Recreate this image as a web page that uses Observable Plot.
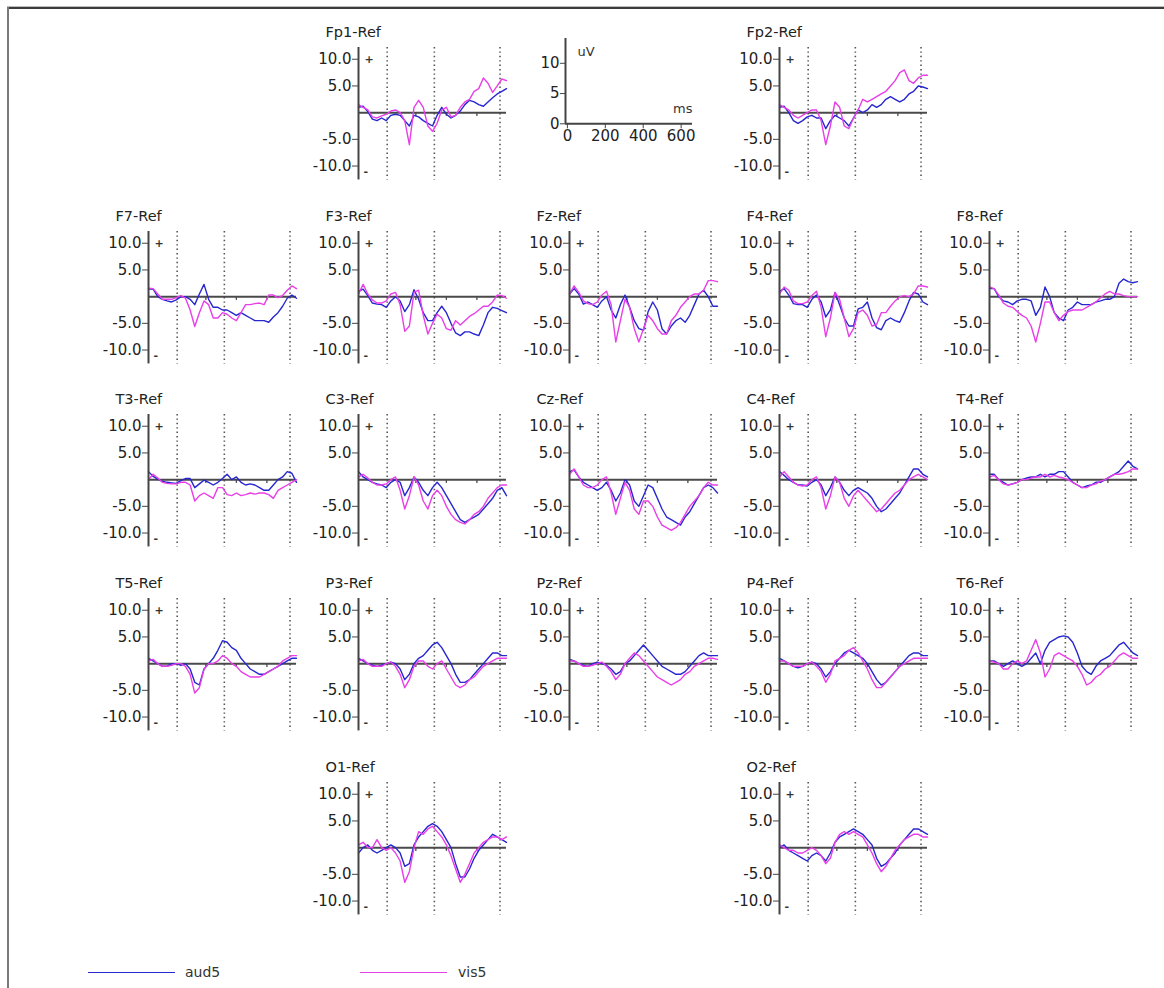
<!DOCTYPE html>
<html>
<head>
<meta charset="utf-8">
<script src="https://cdn.jsdelivr.net/npm/d3@7"></script>
<script src="https://cdn.jsdelivr.net/npm/@observablehq/plot@0.6"></script>
<style>
  html, body { margin: 0; padding: 0; background: #fff; }
  #page { position: relative; width: 1164px; height: 988px; overflow: hidden; background: #fff;
          font-family: "DejaVu Sans", sans-serif; color: #222; }
  #frameTop { position: absolute; left: 7px; top: 6px; width: 1157px; height: 0; border-top: 1px solid #bdbdbd; }
  #frameTop2 { position: absolute; left: 7px; top: 7px; width: 1157px; height: 0; border-top: 2px solid #3c3c3c; }
  #frameLeft { position: absolute; left: 7px; top: 7px; width: 0; height: 981px; border-left: 2px solid #7a7a7a; }
  .panel { position: absolute; }
  .leg { position: absolute; font-size: 14px; color: #333; }
  .legline { position: absolute; height: 0; }
</style>
</head>
<body>
<div id="page">
  <div id="frameTop"></div>
  <div id="frameTop2"></div>
  <div id="frameLeft"></div>
</div>
<script>
// ---- time grid (ms) and panel furniture ----
const times = [-150,-125,-100,-75,-50,-25,0,25,50,75,100,125,150,175,200,225,250,275,300,325,350,375,400,425,450,475,500,525,550,575,600,625,650];
const markerTimes = [5, 260, 615];
const zeroTicks = [160, 325, 490];
const yTicks = [10, 5, -5, -10];
const scaleXTicks = [0, 200, 400, 600];
const scaleYTicks = [0, 5, 10];
const conditions = ["aud5", "vis5"];
const condColors = ["#2727cf", "#e83fe8"];

// ---- channel layout (grid column / row) ----
const channelNames = ["Fp1","Fp2","F7","F3","Fz","F4","F8","T3","C3","Cz","C4","T4","T5","P3","Pz","P4","T6","O1","O2"];
const channelCols  = [1,3, 0,1,2,3,4, 0,1,2,3,4, 0,1,2,3,4, 1,3];
const channelRows  = [0,0, 1,1,1,1,1, 2,2,2,2,2, 3,3,3,3,3, 4,4];

// ---- waveforms (uV), aud5 = auditory, vis5 = visual ----
const aud_Fp1 = [1.0,1.2,0.2,-1.2,-1.5,-1.0,-1.5,-0.5,-0.3,-0.5,-1.5,-2.5,-0.5,-0.8,-1.5,-2.0,-2.5,-0.5,1.0,-0.3,-1.0,-0.5,0.3,1.5,2.3,2.0,1.5,1.2,2.0,2.8,3.5,4.0,4.5];
const vis_Fp1 = [1.5,1.0,0.5,-0.8,-1.0,-0.6,-0.3,0.3,0.5,0.0,-1.5,-6.0,1.0,2.3,1.0,-2.5,-3.5,-2.0,0.5,1.0,-0.8,-0.5,1.0,2.0,2.5,4.0,4.5,6.5,5.5,3.8,5.0,6.3,6.0];
const aud_Fp2 = [1.0,1.2,0.0,-1.5,-2.0,-1.5,-0.8,-0.5,-1.0,-1.0,-3.0,-1.5,-0.5,-1.0,-1.5,-2.5,-1.0,0.5,0.0,0.5,1.5,1.0,1.5,2.5,3.0,2.5,2.0,2.5,3.5,4.0,5.0,4.8,4.5];
const vis_Fp2 = [1.5,1.0,0.5,-0.5,-1.0,-0.5,0.0,0.5,0.5,-1.5,-6.0,-2.5,2.0,1.0,-2.5,-3.0,-1.0,0.5,2.5,2.0,2.5,3.0,3.5,4.0,5.0,6.0,7.5,8.0,6.0,5.5,6.5,7.0,7.0];
const aud_F7 = [1.4,1.4,0.0,-0.5,-0.8,-1.0,-0.6,0.0,0.0,-0.5,-1.5,0.5,2.3,-0.5,-2.0,-2.0,-2.5,-2.5,-3.0,-3.5,-3.0,-3.5,-4.0,-4.5,-4.5,-4.5,-4.8,-3.8,-3.0,-1.8,-0.3,0.3,-0.3];
const vis_F7 = [1.6,1.5,0.5,-0.5,-0.5,-0.5,-0.2,0.2,-0.3,-2.5,-5.6,-3.0,-0.8,-1.5,-4.0,-4.0,-3.0,-3.3,-4.0,-4.5,-3.0,-1.5,-1.5,-1.3,-1.2,-1.5,0.3,0.3,-0.2,0.2,1.2,2.0,1.5];
const aud_F3 = [1.0,1.4,0.2,-1.2,-1.4,-1.5,-2.0,-0.8,0.0,-0.8,-2.8,-1.5,1.3,-0.5,-3.0,-4.5,-4.5,-3.0,-1.8,-3.0,-5.0,-6.8,-7.3,-6.6,-6.6,-7.0,-7.3,-5.3,-3.0,-2.0,-2.2,-2.6,-3.0];
const vis_F3 = [0.5,2.3,0.5,-0.6,-1.2,-1.2,-0.8,0.5,0.8,-1.5,-6.5,-5.5,0.8,1.2,-3.5,-7.0,-5.0,-3.3,-4.0,-6.0,-6.3,-4.5,-5.3,-4.5,-3.7,-3.2,-2.5,-1.8,-1.8,-1.0,0.3,0.2,-0.3];
const aud_Fz = [0.5,1.5,0.5,-1.4,-1.0,-1.5,-2.0,-0.8,0.0,-2.5,-4.0,-1.5,0.3,-2.0,-4.5,-6.0,-6.3,-2.8,-1.0,-2.5,-6.0,-7.0,-5.5,-4.5,-4.0,-4.8,-3.5,-1.5,0.5,1.2,0.0,-1.8,-1.8];
const vis_Fz = [0.5,2.0,0.8,-0.8,-1.3,-1.5,-1.0,0.3,1.0,-1.5,-8.5,-4.5,-0.5,-2.0,-6.0,-8.5,-6.0,-3.5,-4.5,-6.0,-7.0,-7.0,-4.5,-3.5,-2.0,-1.0,0.0,0.5,0.5,1.2,3.0,3.0,2.8];
const aud_F4 = [1.0,1.5,0.3,-1.3,-1.5,-1.5,-2.0,-0.5,0.3,-1.0,-3.8,-2.5,0.8,-1.5,-4.0,-5.5,-5.5,-2.3,-2.0,-1.0,-4.0,-5.8,-6.2,-4.5,-4.0,-4.5,-4.8,-3.0,-0.8,0.8,0.5,-1.0,-1.5];
const vis_F4 = [0.5,1.8,1.2,-0.8,-1.3,-1.3,-1.0,0.2,1.0,-2.0,-7.5,-4.0,0.8,-0.5,-4.0,-7.5,-6.0,-3.0,-2.5,-3.5,-5.5,-5.2,-3.0,-3.0,-1.8,-0.8,0.0,0.2,0.0,0.5,2.0,2.0,1.8];
const aud_F8 = [1.5,1.5,0.0,-0.8,-1.0,-1.5,-0.8,-0.5,-0.5,-0.8,-3.5,-2.0,1.8,0.0,-3.0,-4.0,-4.5,-2.5,-2.0,-1.0,-1.5,-1.5,-1.5,-1.0,-0.8,-0.5,-0.5,0.0,2.5,3.3,2.8,2.6,2.8];
const vis_F8 = [1.8,1.5,0.3,-1.2,-1.8,-2.0,-2.8,-3.5,-4.0,-5.5,-8.5,-5.0,-1.0,-1.0,-3.0,-4.5,-3.5,-2.8,-2.5,-2.5,-2.5,-2.0,-1.5,-1.0,-0.2,0.5,1.0,0.5,0.5,0.2,0.0,0.0,0.0];
const aud_T3 = [1.5,0.6,0.1,-0.3,-0.5,-0.6,-0.7,-0.2,0.2,0.2,-1.5,-0.8,-0.1,-0.5,-1.0,-0.5,0.2,1.0,0.0,0.5,-0.5,-1.0,-0.8,-1.0,-1.5,-2.0,-2.0,-1.0,0.0,0.5,1.5,1.2,-0.5];
const vis_T3 = [0.0,1.0,0.3,-0.5,-0.7,-0.8,-0.8,-0.5,-0.5,-1.0,-4.0,-3.0,-2.5,-3.0,-3.5,-1.5,-1.5,-2.8,-3.0,-2.5,-3.0,-2.8,-2.5,-2.7,-2.5,-2.5,-2.8,-3.5,-2.0,-1.5,-1.0,-0.5,0.0];
const aud_C3 = [1.5,0.5,0.0,-0.5,-0.8,-1.0,-1.5,-0.5,0.0,-0.5,-3.0,-1.5,0.5,-0.5,-2.0,-3.0,-1.5,-0.5,-1.5,-3.0,-4.5,-6.0,-7.5,-8.0,-7.5,-7.0,-6.5,-5.5,-4.5,-3.5,-2.0,-1.5,-3.0];
const vis_C3 = [0.5,1.0,0.3,-0.5,-1.0,-1.0,-0.8,0.0,0.5,-2.0,-5.5,-3.0,0.5,-1.0,-4.0,-5.5,-3.0,-2.0,-3.0,-5.0,-6.5,-7.5,-8.0,-8.3,-7.5,-6.5,-6.0,-5.0,-3.5,-2.5,-1.5,-1.0,-1.0];
const aud_Cz = [1.5,1.8,0.5,-0.5,-1.0,-1.5,-2.0,-1.5,-0.5,-2.0,-4.0,-2.5,0.0,-1.0,-4.0,-5.0,-3.0,-1.0,-1.5,-3.5,-5.5,-7.0,-7.5,-8.0,-8.5,-7.0,-6.0,-4.5,-3.0,-1.5,-1.0,-1.5,-2.5];
const vis_Cz = [1.0,2.0,0.5,-1.0,-1.5,-1.5,-1.0,0.0,0.5,-2.5,-6.5,-3.5,-0.5,-2.0,-5.5,-6.5,-4.0,-4.0,-5.0,-7.0,-8.5,-9.0,-9.5,-9.0,-8.0,-6.5,-5.0,-4.0,-3.0,-1.5,-0.5,-1.0,-1.0];
const aud_C4 = [1.5,0.8,0.0,-0.5,-1.0,-1.0,-1.2,-0.5,0.0,-1.0,-3.0,-1.5,0.5,-0.5,-2.0,-3.0,-2.0,-1.5,-2.0,-2.5,-3.5,-5.0,-6.0,-5.5,-4.5,-3.5,-2.5,-1.0,0.5,2.0,2.0,1.0,0.5];
const vis_C4 = [0.5,1.5,0.5,-0.5,-1.0,-1.2,-1.0,0.0,0.5,-1.5,-5.5,-3.0,0.5,-0.5,-3.5,-5.0,-3.0,-2.0,-3.0,-4.0,-5.0,-6.0,-5.5,-4.5,-3.5,-2.5,-2.0,-1.0,0.0,0.5,1.0,0.5,0.0];
const aud_T4 = [1.0,1.0,0.0,-0.5,-1.0,-0.8,-0.5,0.0,0.3,0.5,0.5,1.0,0.5,1.0,1.0,1.5,1.5,0.5,-0.5,-1.0,-1.5,-1.2,-1.0,-0.5,-0.5,0.0,0.5,1.0,1.5,2.5,3.5,2.5,2.0];
const vis_T4 = [0.5,0.8,0.0,-0.8,-1.0,-0.8,-0.5,0.0,0.0,0.3,0.5,0.5,1.0,0.5,0.8,0.5,0.3,0.0,-0.5,-1.0,-1.5,-1.5,-1.0,-0.8,-0.3,0.0,0.5,1.0,1.0,1.2,1.5,2.0,2.0];
const aud_T5 = [1.0,0.5,0.0,-0.5,-0.5,0.0,0.0,-0.3,0.0,-1.0,-3.5,-4.0,-1.0,0.0,1.0,2.5,4.3,4.0,3.0,2.5,1.0,0.0,-1.0,-1.5,-2.0,-2.0,-1.5,-1.0,-0.5,0.0,0.5,1.0,1.0];
const vis_T5 = [0.5,0.8,0.0,-0.5,-0.5,-0.3,0.0,0.0,-0.5,-2.0,-5.5,-4.5,-1.0,0.0,0.0,0.5,1.5,1.0,0.0,-0.5,-1.5,-2.0,-2.5,-2.5,-2.5,-2.0,-1.5,-1.0,-0.5,0.5,1.0,1.5,1.5];
const aud_P3 = [1.0,0.5,0.0,-0.3,-0.5,-0.3,0.0,0.3,0.0,-1.0,-3.0,-2.0,0.0,1.0,1.5,2.5,3.5,4.0,3.0,1.5,0.0,-2.0,-3.5,-3.5,-3.0,-2.0,-1.0,0.0,1.0,2.0,2.0,1.5,1.5];
const vis_P3 = [0.5,0.8,0.0,-0.5,-0.5,-0.5,0.0,0.3,-0.5,-2.0,-4.5,-3.0,-0.5,0.5,0.5,-0.5,-1.0,0.0,0.5,-1.0,-2.5,-4.0,-4.5,-4.0,-3.0,-2.5,-1.5,-0.5,0.0,0.5,1.0,1.0,1.0];
const aud_Pz = [0.8,0.5,0.0,-0.3,-0.5,0.0,0.3,0.0,-0.3,-1.0,-2.0,-1.5,0.0,0.5,1.5,2.5,3.5,2.5,1.5,0.5,-0.5,-1.0,-1.5,-2.0,-2.0,-1.5,-0.5,0.5,1.5,2.0,1.5,1.5,1.5];
const vis_Pz = [0.5,0.5,0.0,-0.5,-0.5,-0.3,0.0,0.3,-0.5,-1.5,-3.0,-2.0,0.0,1.0,2.0,1.5,0.5,-0.5,-1.5,-2.5,-3.0,-3.5,-4.0,-3.5,-3.0,-2.0,-1.5,-0.5,0.0,0.5,1.0,1.0,0.8];
const aud_P4 = [1.0,0.5,0.0,-0.5,-0.8,-0.5,0.0,0.3,0.0,-1.0,-2.5,-1.5,0.0,1.0,2.0,2.5,2.0,1.5,1.0,0.0,-1.5,-3.0,-4.0,-3.5,-2.5,-1.5,-0.5,0.5,1.5,2.0,2.0,1.5,1.5];
const vis_P4 = [0.5,0.5,0.0,-0.5,-0.5,-0.5,0.0,0.3,-0.5,-1.5,-3.5,-2.0,0.5,1.0,1.5,2.5,3.0,2.0,0.5,-1.0,-3.0,-4.5,-4.5,-3.5,-2.5,-1.5,-0.5,0.0,0.5,1.0,1.0,1.0,1.0];
const aud_T6 = [0.5,0.5,0.0,-0.5,0.0,0.5,0.0,-0.5,0.0,1.0,2.0,0.0,2.5,4.0,4.5,5.0,5.2,5.0,4.0,2.0,-0.5,-1.5,-2.0,-0.5,0.5,1.0,1.5,2.5,3.5,4.0,3.0,2.0,1.5];
const vis_T6 = [0.5,0.3,0.0,-1.0,-1.0,0.0,0.5,0.0,0.5,2.5,4.5,2.0,-2.5,-1.0,1.5,2.0,1.5,1.0,0.5,-0.5,-2.0,-4.0,-3.5,-2.5,-2.0,-1.0,-0.5,0.5,1.5,2.0,1.5,1.0,1.0];
const aud_O1 = [-1.0,0.0,0.5,-0.5,-1.0,-0.5,0.0,0.5,0.0,-1.0,-3.5,-3.0,0.5,2.0,3.0,4.0,4.5,4.0,3.0,1.5,0.0,-3.0,-5.5,-5.5,-4.0,-2.0,-0.5,0.5,1.5,2.5,2.0,1.5,1.0];
const vis_O1 = [0.5,1.0,0.0,0.0,1.5,0.0,-0.5,0.0,-1.0,-2.5,-6.5,-4.5,0.0,3.0,2.5,3.5,4.0,3.0,2.0,0.5,-1.5,-4.0,-6.5,-5.0,-3.0,-1.0,0.0,1.0,1.5,2.0,2.0,1.5,2.0];
const aud_O2 = [0.0,0.5,-0.5,-1.0,-1.5,-2.0,-2.5,-1.5,-1.0,-1.5,-2.5,-1.0,1.0,2.0,2.5,3.0,3.5,3.0,2.5,1.5,0.5,-2.0,-3.5,-3.0,-2.0,-1.0,0.5,1.5,2.5,3.5,3.5,3.0,2.5];
const vis_O2 = [0.5,0.0,-0.5,-0.5,-1.0,-1.0,-0.5,0.0,-0.5,-1.5,-3.0,-2.0,1.0,2.5,3.0,2.5,3.0,2.5,2.0,0.5,-1.0,-3.0,-4.5,-3.5,-2.0,-0.5,0.5,1.5,2.0,2.5,2.5,2.0,2.0];

const audData = {Fp1:aud_Fp1,Fp2:aud_Fp2,F7:aud_F7,F3:aud_F3,Fz:aud_Fz,F4:aud_F4,F8:aud_F8,T3:aud_T3,C3:aud_C3,Cz:aud_Cz,C4:aud_C4,T4:aud_T4,T5:aud_T5,P3:aud_P3,Pz:aud_Pz,P4:aud_P4,T6:aud_T6,O1:aud_O1,O2:aud_O2};
const visData = {Fp1:vis_Fp1,Fp2:vis_Fp2,F7:vis_F7,F3:vis_F3,Fz:vis_Fz,F4:vis_F4,F8:vis_F8,T3:vis_T3,C3:vis_C3,Cz:vis_Cz,C4:vis_C4,T4:vis_T4,T5:vis_T5,P3:vis_P3,Pz:vis_Pz,P4:vis_P4,T6:vis_T6,O1:vis_O1,O2:vis_O2};

// ---- page geometry ----
const colX = [148, 358, 569, 779, 989];      // page x of each panel's y axis
const rowZ = [112.5, 296.5, 479.5, 663.5, 847]; // page y of each panel's zero line
const PX_PER_UV = 5.34, INNER_W = 148;
const Y_TOP = 12.2, Y_BOT = -12.6;
const ML = 60, MR = 4, MT = 42, MB = 6;
const FONT = "DejaVu Sans";
const page = document.getElementById("page");

function place(node, left, top, w, h) {
  const d = document.createElement("div");
  d.className = "panel";
  d.style.left = left + "px"; d.style.top = top + "px";
  d.style.width = w + "px"; d.style.height = h + "px";
  d.appendChild(node);
  page.appendChild(d);
}

channelNames.forEach((name, i) => {
  const X0 = colX[channelCols[i]], Z = rowZ[channelRows[i]];
  const innerH = (Y_TOP - Y_BOT) * PX_PER_UV;
  const W = ML + INNER_W + MR, H = MT + innerH + MB;
  const aud = audData[name], vis = visData[name];
  const chart = Plot.plot({
    width: W, height: H,
    marginLeft: ML, marginRight: MR, marginTop: MT, marginBottom: MB,
    x: {domain: [-150, 650], axis: null},
    y: {domain: [Y_BOT, Y_TOP], axis: null},
    style: {fontFamily: FONT, fontSize: "15px", color: "#222", background: "transparent", overflow: "visible"},
    marks: [
      Plot.ruleX(markerTimes, {stroke: "#555", strokeWidth: 1.6, strokeDasharray: "1.4,3"}),
      Plot.ruleY([0], {x1: -150, x2: 650, stroke: "#4a4a4a", strokeWidth: 2}),
      Plot.ruleX(zeroTicks, {y1: 0, y2: -0.7, stroke: "#4a4a4a", strokeWidth: 1.3}),
      Plot.line(aud, {x: times, y: aud, stroke: condColors[0], strokeWidth: 1.4}),
      Plot.line(vis, {x: times, y: vis, stroke: condColors[1], strokeWidth: 1.4}),
      Plot.ruleX([-150], {stroke: "#444", strokeWidth: 2}),
      Plot.axisY(yTicks, {anchor: "left", tickSize: 6, tickPadding: 1, tickFormat: d => d.toFixed(1),
                          stroke: "#444", fill: "#222", fontSize: 15, label: null}),
      Plot.text(["+"], {x: -150, y: 10, dx: 6, fontSize: 11, fontWeight: "bold", fill: "#333", textAnchor: "start"}),
      Plot.text(["-"], {x: -150, y: -11, dx: 5, fontSize: 11, fontWeight: "bold", fill: "#333", textAnchor: "start"}),
      Plot.text([name + "-Ref"], {frameAnchor: "top-left", dx: -33, dy: -15, textAnchor: "start",
                                  lineAnchor: "middle", fontSize: 14.5, fill: "#222"})
    ]
  });
  place(chart, X0 - ML, Z - Y_TOP * PX_PER_UV - MT, W, H);
});

// ---- calibration (scale) panel ----
{
  const sML = 40, sMR = 6, sMT = 4, sMB = 30, sW = 127, sH = 85.3;
  const chart = Plot.plot({
    width: sML + sW + sMR, height: sMT + sH + sMB,
    marginLeft: sML, marginRight: sMR, marginTop: sMT, marginBottom: sMB,
    x: {domain: [-10, 660], axis: null},
    y: {domain: [0, 14.1], axis: null},
    style: {fontFamily: FONT, fontSize: "15px", color: "#222", background: "transparent", overflow: "visible"},
    marks: [
      Plot.ruleX([-10], {stroke: "#444", strokeWidth: 2}),
      Plot.ruleY([0], {stroke: "#444", strokeWidth: 2}),
      Plot.axisX(scaleXTicks, {anchor: "bottom", tickSize: 5, tickPadding: 2, stroke: "#444", fill: "#222", fontSize: 15, label: null}),
      Plot.axisY(scaleYTicks, {anchor: "left", tickSize: 5, tickPadding: 1, stroke: "#444", fill: "#222", fontSize: 15, label: null}),
      Plot.text(["uV"], {x: -10, y: 11.9, dx: 12, textAnchor: "start", fontSize: 13, fill: "#333"}),
      Plot.text(["ms"], {x: 660, y: 2.5, textAnchor: "end", fontSize: 13, fill: "#333"})
    ]
  });
  place(chart, 565 - sML, 38 - sMT, sML + sW + sMR, sMT + sH + sMB);
}

// ---- legend ----
conditions.forEach((c, i) => {
  const x0 = [88, 360][i], x1 = [175, 447][i], tx = [185, 458][i];
  const line = document.createElement("div");
  line.className = "legline";
  line.style.left = x0 + "px"; line.style.top = "972px"; line.style.width = (x1 - x0) + "px";
  line.style.borderTop = "1.5px solid " + condColors[i];
  page.appendChild(line);
  const t = document.createElement("div");
  t.className = "leg";
  t.style.left = tx + "px"; t.style.top = "964px";
  t.textContent = c;
  page.appendChild(t);
});
</script>
</body>
</html>
